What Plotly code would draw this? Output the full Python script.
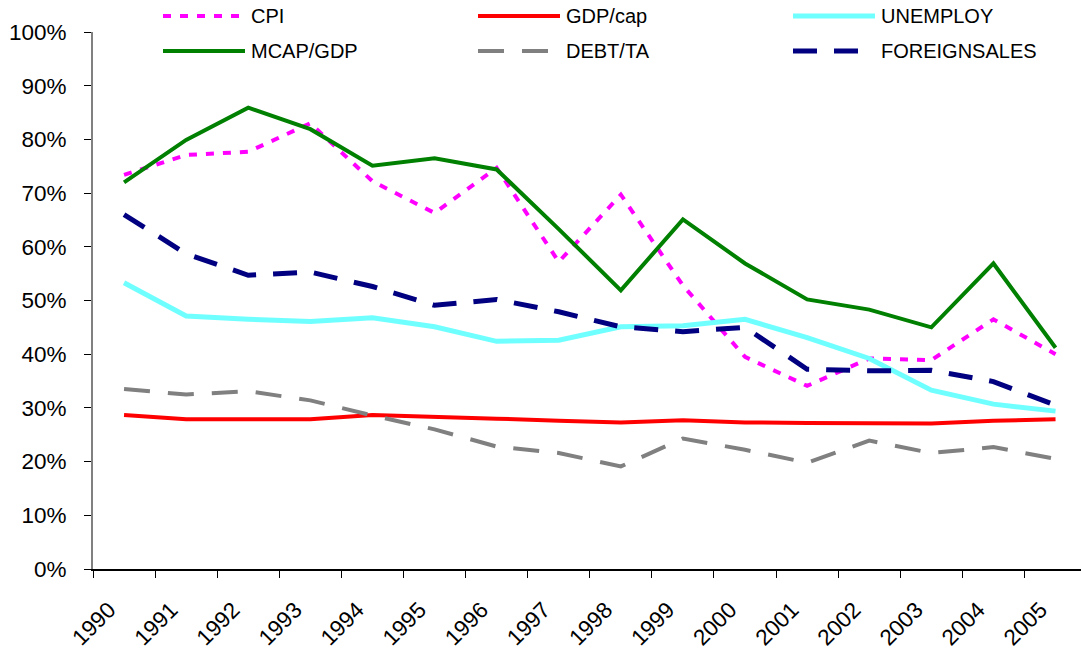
import plotly.graph_objects as go

years = [str(y) for y in range(1990, 2006)]

cpi = [73.4, 77.1, 77.7, 83.0, 72.2, 66.3, 74.7, 57.2, 69.7, 52.8, 39.5, 34.1, 39.2, 38.9, 46.5, 40.0]
gdp_cap = [28.7, 27.9, 27.9, 27.9, 28.7, 28.4, 28.0, 27.6, 27.3, 27.7, 27.3, 27.2, 27.2, 27.1, 27.6, 27.9]
unemploy = [53.3, 47.1, 46.5, 46.1, 46.8, 45.1, 42.4, 42.6, 45.1, 45.3, 46.5, 43.1, 39.2, 33.3, 30.7, 29.4]
mcap_gdp = [72.0, 79.9, 85.9, 81.9, 75.1, 76.5, 74.4, 63.3, 51.9, 65.1, 56.9, 50.2, 48.3, 45.0, 56.9, 41.2]
debt_ta = [33.5, 32.5, 33.1, 31.4, 28.6, 26.0, 22.8, 21.6, 19.1, 24.3, 22.2, 19.8, 23.9, 21.6, 22.7, 20.5]
foreignsales = [66.0, 58.7, 54.7, 55.3, 52.6, 49.1, 50.2, 47.9, 45.1, 44.2, 45.0, 37.2, 36.9, 37.0, 34.9, 30.5]

series = [
    ("CPI", cpi, "#FF00FF", 4, "8px,9px"),
    ("GDP/cap", gdp_cap, "#FF0000", 4, "solid"),
    ("UNEMPLOY", unemploy, "#70FFFF", 5, "solid"),
    ("MCAP/GDP", mcap_gdp, "#008000", 4, "solid"),
    ("DEBT/TA", debt_ta, "#808080", 4, "26px,18px"),
    ("FOREIGNSALES", foreignsales, "#000080", 5, "24px,17px"),
]

W, H = 1081, 649
ML, MR, MT = 93, 0, 32
MB = H - MT - 537
PW, PH = W - ML - MR, H - MT - MB

fig = go.Figure()
for name, vals, color, width, dash in series:
    fig.add_trace(go.Scatter(
        x=years, y=[v / 100 for v in vals], name=name, mode="lines",
        line=dict(color=color, width=width, dash=dash),
        showlegend=False,
    ))

# custom legend (image-pixel positions converted to paper coords)
def px_x(px):
    return (px - ML) / PW

def px_y(py):
    return (H - MB - py) / PH

legend_pos = [(163, 16), (478, 16), (793, 16), (163, 51), (478, 51), (793, 51)]
shapes = []
annotations = []
for (name, vals, color, width, dash), (lx, ly) in zip(series, legend_pos):
    shapes.append(dict(
        type="line", xref="paper", yref="paper",
        x0=px_x(lx), x1=px_x(lx + 82), y0=px_y(ly), y1=px_y(ly),
        line=dict(color=color, width=width, dash=dash),
    ))
    annotations.append(dict(
        xref="paper", yref="paper", x=px_x(lx + 87), y=px_y(ly),
        text=name, showarrow=False, xanchor="left", yanchor="middle",
        borderpad=0,
        font=dict(family="Liberation Sans, Arial", size=20, color="black"),
    ))

fig.update_layout(
    width=W, height=H,
    margin=dict(l=ML, r=MR, t=MT, b=MB, autoexpand=False),
    paper_bgcolor="white", plot_bgcolor="white",
    font=dict(family="Liberation Sans, Arial", size=21, color="black"),
    shapes=shapes, annotations=annotations,
    showlegend=False,
)
fig.update_xaxes(
    type="category", range=[-0.5, 15.41], tickson="boundaries",
    ticks="outside", ticklen=7, tickcolor="black", tickwidth=1,
    showline=True, linecolor="black", linewidth=1.5,
    showgrid=False, zeroline=False, tickangle=-45, automargin=False,
    tickfont=dict(size=22.5), ticklabelshift=-15, ticklabelstandoff=17,
)
fig.update_yaxes(
    range=[0, 1], tickvals=[i / 10 for i in range(11)], tickformat=".0%",
    ticks="outside", ticklen=7, tickcolor="black", tickwidth=1,
    showline=True, linecolor="#808080", linewidth=2,
    showgrid=False, zeroline=False, automargin=False,
    tickfont=dict(size=22.5), ticklabelstandoff=13,
)

fig.write_html(
    "out.html",
    config={"displayModeBar": False},
    post_script="document.body.style.margin='0';document.body.style.overflow='hidden';",
)
